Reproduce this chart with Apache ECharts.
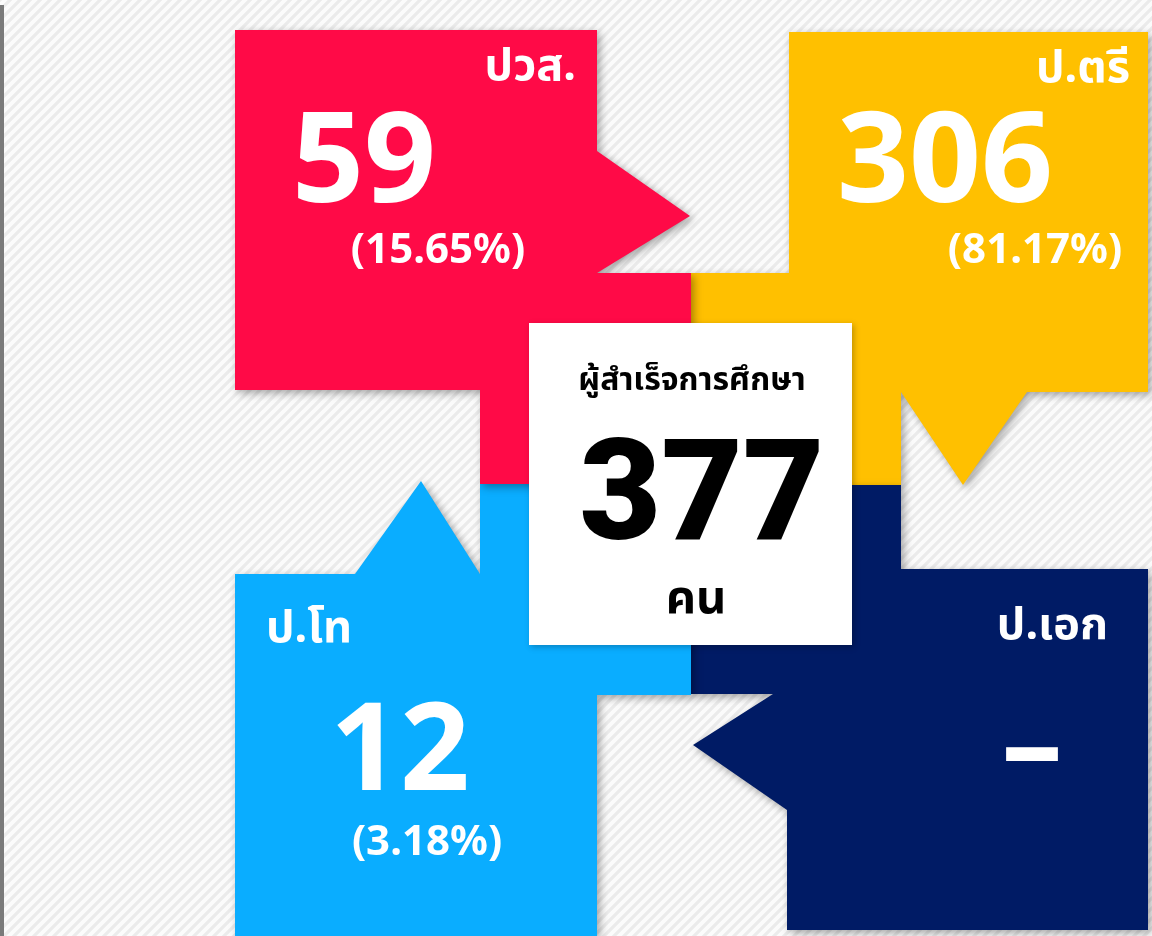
<!DOCTYPE html>
<html>
<head>
<meta charset="utf-8">
<script src="https://cdn.jsdelivr.net/npm/echarts@6/dist/echarts.min.js"></script>
<style>
html,body{margin:0;padding:0;background:#fff;}
#chart{width:1152px;height:936px;}
</style>
</head>
<body>
<div id="chart"></div>
<script>
// ---- data ----
const categories = ['ปวส.', 'ป.ตรี', 'ป.โท', 'ป.เอก'];
const counts = [59, 306, 12, null];
const percents = ['15.65%', '81.17%', '3.18%', null];
const totalTitle = 'ผู้สำเร็จการศึกษา';
const totalCount = 377;
const totalUnit = 'คน';

// ---- style / layout ----
const colors = ['#FF0A47', '#FFC000', '#0AADFF', '#001B65'];
const shapes = [
  [[235,30],[597,30],[597,151],[690,216],[597,273],[691,273],[691,484],[480,484],[480,390],[235,390]],
  [[789,32],[1148,32],[1148,392],[1027,392],[963,485],[901,392],[901,485],[691,485],[691,273],[789,273]],
  [[235,574],[355,574],[421,481],[480,574],[480,484],[691,484],[691,695],[597,695],[597,936],[235,936]],
  [[691,485],[901,485],[901,569],[1148,569],[1148,930],[787,930],[787,810],[693,745],[773,694],[691,694]]
];
const labelPos = [
  {x:576, y:67, align:'right'},
  {x:1130, y:69, align:'right'},
  {x:266, y:629, align:'left'},
  {x:1108, y:626, align:'right'}
];
const numPos = [[364,166],[945,166],[400,755],[1032,752]];
const numSize = [126, 126, 122, 122];
const pctPos = [[438,251],[1035,251],[427,843]];

const FONT = '"Noto Sans", "Noto Sans Thai", "Loma", "Garuda", sans-serif';

// stripes pattern
const pc = document.createElement('canvas');
pc.width = 10; pc.height = 10;
const g = pc.getContext('2d');
g.fillStyle = '#fbfbfb'; g.fillRect(0,0,10,10);
g.strokeStyle = '#ebebeb'; g.lineWidth = 3.2;
g.beginPath();
g.moveTo(-5,5); g.lineTo(5,-5);
g.moveTo(0,10); g.lineTo(10,0);
g.moveTo(5,15); g.lineTo(15,5);
g.stroke();

const elements = [];
elements.push({type:'rect', shape:{x:0,y:0,width:1152,height:936}, style:{fill:{image:pc, repeat:'repeat'}}, silent:true});
elements.push({type:'rect', shape:{x:0,y:5,width:4,height:931}, style:{fill:'#7a7a7a'}});

const order = [1,3,2,0];
order.forEach(i => {
  elements.push({
    type:'polygon',
    shape:{points: shapes[i]},
    style:{fill: colors[i], shadowBlur: 8, shadowOffsetX: 3, shadowOffsetY: 3, shadowColor:'rgba(0,0,0,0.35)'}
  });
});

// center box
elements.push({type:'rect', shape:{x:529,y:323,width:323,height:322},
  style:{fill:'#ffffff', shadowBlur:6, shadowOffsetX:2, shadowOffsetY:2, shadowColor:'rgba(0,0,0,0.25)'}});

categories.forEach((c,i) => {
  const lp = labelPos[i];
  elements.push({type:'text', x: lp.x, y: lp.y, style:{text:c, fill:'#fff', font:'bold 45px ' + FONT, textAlign: lp.align, textVerticalAlign:'middle'}});
  const n = counts[i];
  elements.push({type:'text', x:numPos[i][0], y:numPos[i][1], style:{text: n == null ? '–' : String(n), fill:'#fff', font:'bold ' + numSize[i] + 'px ' + FONT, textAlign:'center', textVerticalAlign:'middle'}});
  if (percents[i]) {
    elements.push({type:'text', x:pctPos[i][0], y:pctPos[i][1], style:{text:'(' + percents[i] + ')', fill:'#fff', font:'bold 42px ' + FONT, textAlign:'center', textVerticalAlign:'middle'}});
  }
});

elements.push({type:'text', x:692, y:381, style:{text: totalTitle, fill:'#000', font:'bold 32px ' + FONT, textAlign:'center', textVerticalAlign:'middle'}});
elements.push({type:'text', x:702, y:504, style:{text: String(totalCount), fill:'#000', font:'900 141px Roboto, ' + FONT, textAlign:'center', textVerticalAlign:'middle'}});
elements.push({type:'text', x:696, y:600, style:{text: totalUnit, fill:'#000', font:'bold 47px ' + FONT, textAlign:'center', textVerticalAlign:'middle'}});

const chart = echarts.init(document.getElementById('chart'), null, {renderer:'canvas'});
chart.setOption({
  animation:false,
  graphic:{elements}
});
</script>
</body>
</html>
